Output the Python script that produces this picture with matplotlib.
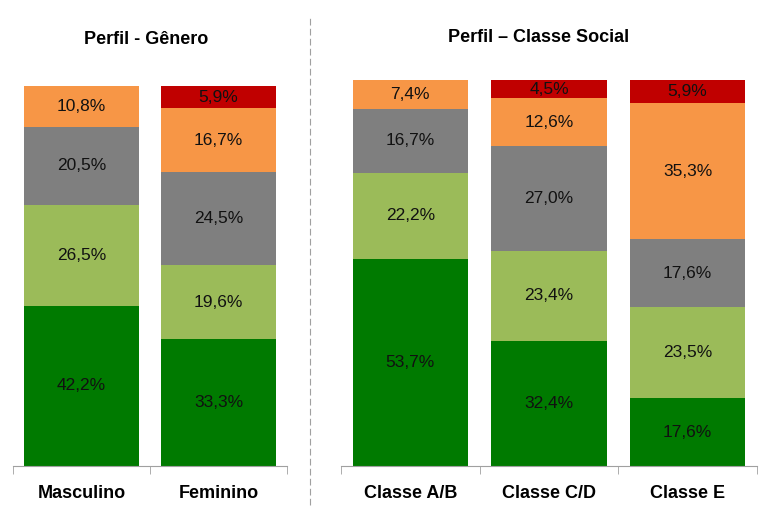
import matplotlib
matplotlib.use("Agg")
import matplotlib.pyplot as plt
from matplotlib.lines import Line2D

plt.rcParams['font.family'] = ['Liberation Sans Narrow', 'Liberation Sans', 'DejaVu Sans']

# series order: bottom -> top
series_colors = ["#007A00", "#9BBB59", "#7F7F7F", "#F79646", "#C00000"]

genero_labels = ["Masculino", "Feminino"]
genero_s1 = [42.2, 33.3]
genero_s2 = [26.5, 19.6]
genero_s3 = [20.5, 24.5]
genero_s4 = [10.8, 16.7]
genero_s5 = [0.0, 5.9]

classe_labels = ["Classe A/B", "Classe C/D", "Classe E"]
classe_s1 = [53.7, 32.4, 17.6]
classe_s2 = [22.2, 23.4, 23.5]
classe_s3 = [16.7, 27.0, 17.6]
classe_s4 = [7.4, 12.6, 35.3]
classe_s5 = [0.0, 4.5, 5.9]


def fmt(v):
    return f"{v:.1f}%".replace(".", ",")


def stacked(ax, labels, series, width):
    n = len(labels)
    x = list(range(n))
    bottoms = [0.0] * n
    for vals, col in zip(series, series_colors):
        ax.bar(x, vals, width=width, bottom=bottoms, color=col, edgecolor="none")
        for i, v in enumerate(vals):
            if v > 0:
                ax.text(x[i], bottoms[i] + v / 2, fmt(v), ha="center", va="center",
                        fontsize=12.5, color="#111111")
        bottoms = [b + v for b, v in zip(bottoms, vals)]
    ax.set_xlim(-0.5, n - 0.5)
    ax.set_ylim(0, 100)
    for s in ["top", "right", "left"]:
        ax.spines[s].set_visible(False)
    ax.spines["bottom"].set_color("#A0A0A0")
    ax.set_yticks([])
    ax.set_xticks(x)
    ax.set_xticklabels(labels, fontsize=13, fontweight="bold")
    ax.tick_params(axis="x", which="major", length=0, pad=14)
    ax.set_xticks([i - 0.5 for i in range(n + 1)], minor=True)
    ax.tick_params(axis="x", which="minor", length=6, color="#A0A0A0", direction="out")


fig = plt.figure(figsize=(7.73, 5.19), dpi=100)
W, H = 773.0, 519.0

ax1 = fig.add_axes([13 / W, (H - 466) / H, 274 / W, (466 - 86) / H])
stacked(ax1, genero_labels, [genero_s1, genero_s2, genero_s3, genero_s4, genero_s5], 0.84)
fig.text(146 / W, (H - 40) / H, "Perfil - Gênero", ha="center", va="center",
         fontsize=13, fontweight="bold")

ax2 = fig.add_axes([341 / W, (H - 466) / H, 416 / W, (466 - 80) / H])
stacked(ax2, classe_labels, [classe_s1, classe_s2, classe_s3, classe_s4, classe_s5], 0.83)
fig.text(539 / W, (H - 38) / H, "Perfil – Classe Social", ha="center", va="center",
         fontsize=13, fontweight="bold")

fig.add_artist(Line2D([310 / W, 310 / W], [(H - 505) / H, (H - 18) / H],
                      color="#A0A0A0", linewidth=0.8, linestyle=(0, (6, 3))))

fig.savefig("out.png", dpi=100)
